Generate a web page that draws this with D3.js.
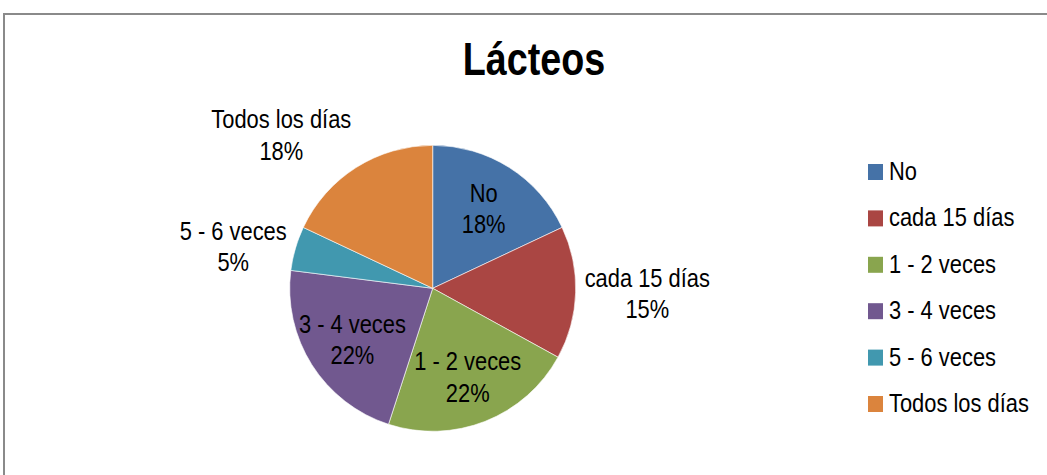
<!DOCTYPE html>
<html>
<head>
<meta charset="utf-8">
<script src="https://cdn.jsdelivr.net/npm/d3@7/dist/d3.min.js"></script>
<style>
  html, body { margin: 0; padding: 0; background: #fff; }
  svg { display: block; }
  text { font-family: "Liberation Sans Narrow", "Arial Narrow", "Liberation Sans", Arial, sans-serif; fill: #000; }
</style>
</head>
<body>
<svg id="chart" width="1047" height="475"></svg>
<script>
// Frequency of dairy consumption
const categories = ["No", "cada 15 días", "1 - 2 veces", "3 - 4 veces", "5 - 6 veces", "Todos los días"];
const percents = [18, 15, 22, 22, 5, 18];
const colors = ["#4572a7", "#aa4643", "#89a54e", "#71588f", "#4198af", "#db843d"];
// Which slices keep their label inside the wedge
const insideLabel = [true, false, true, true, false, false];
const title = "Lácteos";

const W = 1047, H = 475;
const svg = d3.select("#chart");

// Narrow face: if no condensed font is installed, squeeze the regular sans horizontally
function probeWidth(family) {
  const t = svg.append("text").attr("font-size", 40).style("font-family", family).text("Todos los días");
  const w = t.node().getComputedTextLength();
  t.remove();
  return w;
}
const narrowW = probeWidth('"Liberation Sans Narrow", "Arial Narrow", "Liberation Sans"');
const regularW = probeWidth('"Liberation Sans"');
const SX = narrowW < regularW * 0.95 ? 1 : 0.82;

function narrowText(parent, x, y, anchor, size, weight) {
  const gg = parent.append("g").attr("transform", `translate(${x},${y})`);
  const t = gg.append("text")
    .attr("transform", `scale(${SX},1)`)
    .attr("text-anchor", anchor)
    .attr("font-size", size)
    .attr("font-weight", weight || "normal");
  return { g: gg, t: t };
}

// Chart frame (runs past the right and bottom edges)
svg.append("rect")
  .attr("x", 4).attr("y", 14)
  .attr("width", W + 20).attr("height", H + 20)
  .attr("fill", "#fff")
  .attr("stroke", "#8a8a8a").attr("stroke-width", 2);

narrowText(svg, 534, 75, "middle", 46, "bold").t.text(title);

const cx = 432.7, cy = 288.3, R = 143;
const data = categories.map((c, i) => ({ name: c, value: percents[i], color: colors[i], inside: insideLabel[i] }));

const pie = d3.pie().value(d => d.value).sort(null);
const arcs = pie(data);
const arc = d3.arc().innerRadius(0).outerRadius(R);
const labelArc = d3.arc().innerRadius(R * 0.665).outerRadius(R * 0.665);

const g = svg.append("g").attr("transform", `translate(${cx},${cy})`);

g.selectAll("path.slice")
  .data(arcs)
  .join("path")
  .attr("class", "slice")
  .attr("d", arc)
  .attr("fill", d => d.data.color)
  .attr("stroke", "#fff")
  .attr("stroke-width", 0.6);

const fs = 26.7, lineGap = 31.5, capH = 19;

arcs.forEach(a => {
  const lines = [a.data.name, a.data.value + "%"];
  const lbl = narrowText(g, 0, 0, "middle", fs);
  const spans = lines.map(s => lbl.t.append("tspan").attr("x", 0).text(s));
  const w = d3.max(spans, sp => sp.node().getComputedTextLength()) * SX;
  const blockH = capH + lineGap;

  let bx, by; // block centre
  if (a.data.inside) {
    [bx, by] = labelArc.centroid(a);
  } else {
    // outside: the block's near edge sits just past the rim on the mid-angle ray;
    // labels near top/bottom rest on that point, side labels are centred on it
    const mid = (a.startAngle + a.endAngle) / 2;
    const s = Math.sin(mid), c = Math.cos(mid);
    const rr = R + 9;
    const px = rr * s, py = -rr * c;
    bx = s < 0 ? px - w / 2 : px + w / 2;
    const f = Math.sign(c) * Math.min(1, Math.max(0, (Math.abs(c) - 0.3) / 0.5));
    by = py - f * blockH / 2;
  }
  const base1 = -blockH / 2 + capH;
  spans.forEach((sp, k) => sp.attr("y", base1 + k * lineGap));
  lbl.g.attr("transform", `translate(${bx},${by})`);
});

// Legend
const legend = svg.append("g");
const rowY = d3.scalePoint().domain(categories).range([180, 412]);
categories.forEach((c, i) => {
  const y = rowY(c);
  legend.append("rect")
    .attr("x", 868).attr("y", y - 16)
    .attr("width", 15).attr("height", 16)
    .attr("fill", colors[i]);
  narrowText(legend, 889, y, "start", fs).t.text(c);
});
</script>
</body>
</html>
